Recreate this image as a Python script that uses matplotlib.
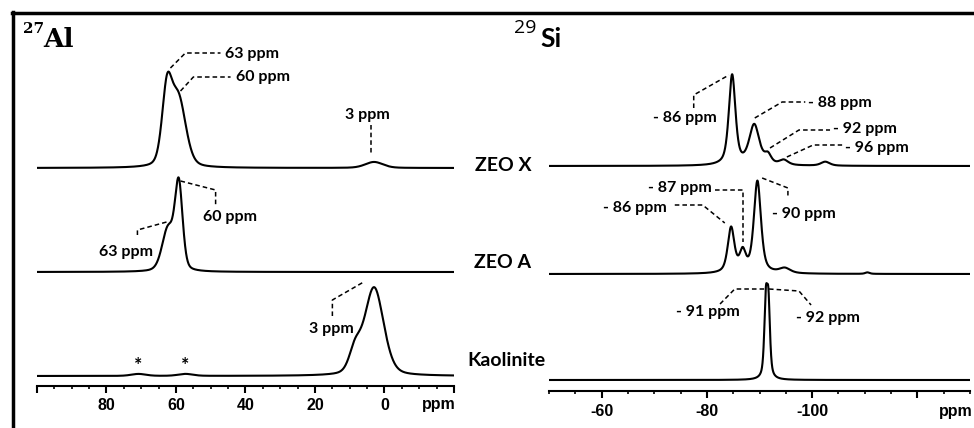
import numpy as np
import matplotlib.pyplot as plt
from matplotlib.lines import Line2D
from matplotlib.ticker import FixedLocator, MultipleLocator

W, H = 974, 428

# peak lists: position (ppm), height, fwhm (ppm)
al_zeox_pos = [62.6, 59.3, 3.0]
al_zeox_height = [72, 68, 6]
al_zeox_width = [3.4, 5.0, 6.0]

al_zeoa_pos = [59.2, 62.3]
al_zeoa_height = [85, 42]
al_zeoa_width = [2.6, 4.0]

al_kaol_pos = [3.0, 8.5, 70.8, 57.3]
al_kaol_height = [88, 22, 2, 2]
al_kaol_width = [6.5, 4.0, 5.0, 5.0]

si_zeox_pos = [-84.8, -89.0, -91.6, -94.6, -102.5]
si_zeox_height = [90, 40, 9, 5, 4]
si_zeox_width = [1.5, 2.3, 1.5, 2.0, 2.0]

si_zeoa_pos = [-84.6, -86.8, -89.6, -94.8, -110.5]
si_zeoa_height = [45, 20, 92, 5, 1.5]
si_zeoa_width = [1.5, 1.4, 1.6, 2.5, 1.0]

si_kaol_pos = [-91.2, -91.7]
si_kaol_height = [72, 70]
si_kaol_width = [0.7, 0.7]

samples = ['ZEO X', 'ZEO A', 'Kaolinite']


def spectrum(x, pos, height, width, eta):
    y = np.zeros_like(x)
    for p, h, w in zip(pos, height, width):
        d = (x - p) / (w / 2)
        lor = 1 / (1 + d ** 2)
        gau = np.exp(-np.log(2) * d ** 2)
        y += h * (eta * lor + (1 - eta) * gau)
    return y


def dashed(ax, xs, ys):
    ax.plot(xs, ys, color='black', lw=1.1, dashes=(3, 2), solid_capstyle='butt')


def px_rect(x0, x1, y_bottom, y_top):
    return [x0 / W, 1 - y_bottom / H, (x1 - x0) / W, (y_bottom - y_top) / H]


ann_font = dict(family=['Lato', 'DejaVu Sans'], fontweight='bold', fontsize=11.5)
tick_font = dict(family=['Liberation Sans', 'DejaVu Sans'], fontweight='bold', fontsize=11.5)

fig = plt.figure(figsize=(W / 100, H / 100), dpi=100)

ax1 = fig.add_axes(px_rect(37, 454, 386, 15))
ax2 = fig.add_axes(px_rect(549, 970, 391, 20))

x_al = np.linspace(100, -20, 3000)
x_si = np.linspace(-50, -130, 4000)

al_offsets = [218, 114, 10]
si_offsets = [225, 117, 11]

al_sets = [(al_zeox_pos, al_zeox_height, al_zeox_width),
           (al_zeoa_pos, al_zeoa_height, al_zeoa_width),
           (al_kaol_pos, al_kaol_height, al_kaol_width)]
si_sets = [(si_zeox_pos, si_zeox_height, si_zeox_width),
           (si_zeoa_pos, si_zeoa_height, si_zeoa_width),
           (si_kaol_pos, si_kaol_height, si_kaol_width)]

for (p, h, w), off in zip(al_sets, al_offsets):
    ax1.plot(x_al, off + spectrum(x_al, p, h, w, 0.3), color='black', lw=1.5)
for (p, h, w), off in zip(si_sets, si_offsets):
    ax2.plot(x_si, off + spectrum(x_si, p, h, w, 0.6), color='black', lw=1.5)

for ax, lim in ((ax1, (100, -20)), (ax2, (-50, -130))):
    ax.set_xlim(*lim)
    ax.set_ylim(0, 371)
    for s in ('left', 'right', 'top'):
        ax.spines[s].set_visible(False)
    ax.spines['bottom'].set_linewidth(1.5)
    ax.set_yticks([])
    ax.xaxis.set_minor_locator(MultipleLocator(5))
    ax.tick_params(axis='x', which='major', length=5, width=1.5, pad=4)
    ax.tick_params(axis='x', which='minor', length=2.5, width=1.2)
    ax.patch.set_alpha(0)

ax1.xaxis.set_major_locator(FixedLocator([100, 80, 60, 40, 20, 0, -20]))
ax1.set_xticklabels(['', '80', '60', '40', '20', '0', ''], **tick_font)
ax2.xaxis.set_major_locator(FixedLocator([-60, -80, -100, -120]))
ax2.set_xticklabels(['-60', '-80', '-100', ''], **tick_font)

ax1.text(-15.5, -0.051, 'ppm', transform=ax1.get_xaxis_transform(),
         ha='center', va='center', **tick_font)
ax2.text(-127.3, -0.054, 'ppm', transform=ax2.get_xaxis_transform(),
         ha='center', va='center', **tick_font)

# 27Al annotations
dashed(ax1, [61.6, 57.3, 47.2], [318, 333, 333])
ax1.text(45.8, 332, '63 ppm', ha='left', va='center', **ann_font)
dashed(ax1, [58.7, 55.0, 44.3], [295, 309, 309])
ax1.text(42.6, 309, '60 ppm', ha='left', va='center', **ann_font)
dashed(ax1, [4.0, 4.0], [261, 231])
ax1.text(4.9, 271, '3 ppm', ha='center', va='center', **ann_font)
dashed(ax1, [58.7, 48.6, 48.6], [205, 196, 181])
ax1.text(44.6, 169, '60 ppm', ha='center', va='center', **ann_font)
dashed(ax1, [71.1, 71.1, 62.7], [151, 156, 164])
ax1.text(74.5, 134, '63 ppm', ha='center', va='center', **ann_font)
dashed(ax1, [15.0, 15.0, 6.0], [70, 86, 104])
ax1.text(15.3, 57, '3 ppm', ha='center', va='center', **ann_font)
for xs in (70.8, 57.3):
    ax1.text(xs, 20, '*', ha='center', va='center',
             family=['Lato', 'DejaVu Sans'], fontweight='bold', fontsize=14)

# 29Si annotations
dashed(ax2, [-77.5, -77.5, -84.2], [283, 296, 316])
ax2.text(-75.8, 273, '- 86 ppm', ha='center', va='center', **ann_font)
dashed(ax2, [-89.1, -94.3, -98.7], [273, 289, 289])
ax2.text(-99.2, 288, '- 88 ppm', ha='left', va='center', **ann_font)
dashed(ax2, [-92.0, -97.5, -103.4], [243, 261, 261])
ax2.text(-104.0, 262, '- 92 ppm', ha='left', va='center', **ann_font)
dashed(ax2, [-95.2, -100.2, -105.7], [234, 246, 246])
ax2.text(-106.3, 243, '- 96 ppm', ha='left', va='center', **ann_font)
dashed(ax2, [-81.5, -86.9, -86.9], [201, 201, 149])
ax2.text(-81.0, 203, '- 87 ppm', ha='right', va='center', **ann_font)
dashed(ax2, [-73.9, -79.2, -83.4], [186, 186, 168])
ax2.text(-72.4, 183, '- 86 ppm', ha='right', va='center', **ann_font)
dashed(ax2, [-90.5, -95.4, -95.4], [213, 203, 193])
ax2.text(-92.4, 177, '- 90 ppm', ha='left', va='center', **ann_font)
dashed(ax2, [-82.5, -85.3, -90.9], [87, 102, 102])
ax2.text(-80.2, 79, '- 91 ppm', ha='center', va='center', **ann_font)
dashed(ax2, [-91.8, -97.5, -99.8], [102, 100, 86])
ax2.text(-103.0, 73, '- 92 ppm', ha='center', va='center', **ann_font)

# sample names between the panels
for name, (x, y) in zip(samples, [(503, 165), (502, 262), (506, 361)]):
    fig.text(x / W, 1 - y / H, name, ha='center', va='center',
             family=['Lato', 'DejaVu Sans'], fontweight='bold', fontsize=14)

# nucleus labels
fig.text(23 / W, 1 - 33 / H, '27', ha='left', va='baseline',
         family=['DejaVu Serif'], fontweight='bold', fontsize=11)
fig.text(43 / W, 1 - 47 / H, 'Al', ha='left', va='baseline',
         family=['DejaVu Serif'], fontweight='bold', fontsize=19)
fig.text(514 / W, 1 - 33 / H, '29', ha='left', va='baseline',
         family=['Open Sans', 'DejaVu Sans'], fontsize=14)
fig.text(540 / W, 1 - 47 / H, 'Si', ha='left', va='baseline',
         family=['Lato', 'DejaVu Sans'], fontweight='bold', fontsize=19)

# frame (only left and top edges are visible in the crop)
fig.add_artist(Line2D([13 / W, 13 / W], [0, 1 - 12 / H], color='black', lw=2.5))
fig.add_artist(Line2D([12 / W, 1], [1 - 13 / H, 1 - 13 / H], color='black', lw=2.5))

fig.savefig('out.png', dpi=100)
